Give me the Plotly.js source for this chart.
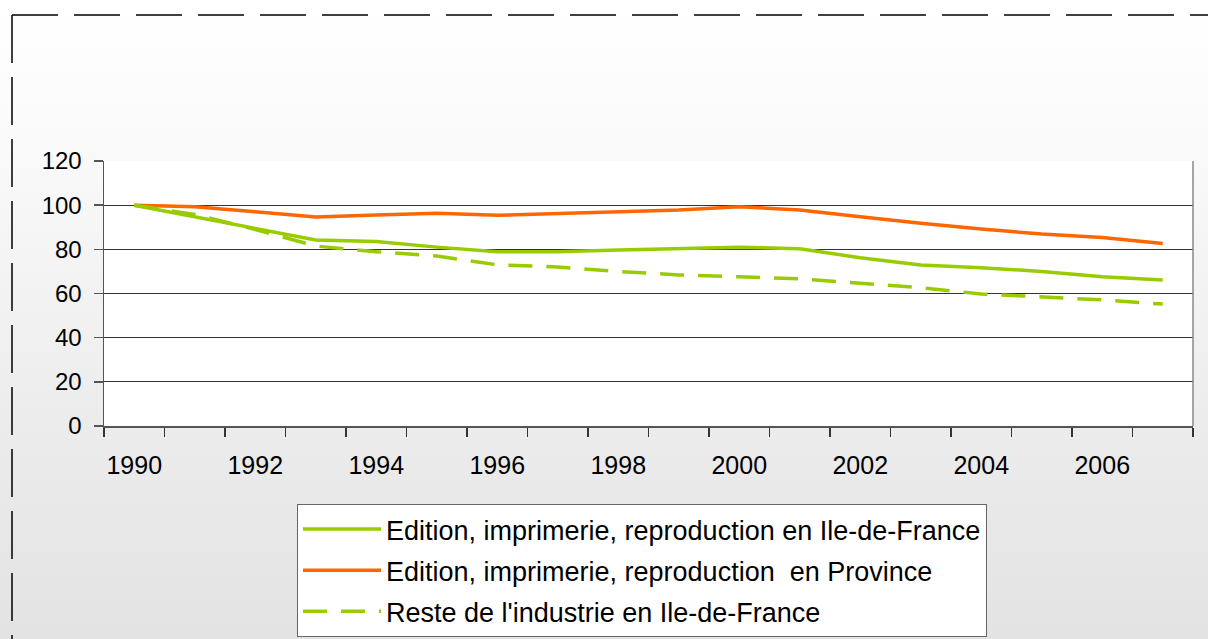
<!DOCTYPE html>
<html>
<head>
<meta charset="utf-8">
<script src="https://cdn.plot.ly/plotly-3.0.1.min.js"></script>
<style>
  html, body { margin: 0; padding: 0; }
  body { width: 1208px; height: 639px; overflow: hidden;
         background: linear-gradient(to bottom, #ffffff 0px, #fbfbfb 120px, #ececec 420px, #e3e3e3 639px); }
  #chart { width: 1208px; height: 639px; }
</style>
</head>
<body>
<div id="chart"></div>
<script>
const years = [1990,1991,1992,1993,1994,1995,1996,1997,1998,1999,2000,2001,2002,2003,2004,2005,2006,2007];
const tickYears = [1990,1992,1994,1996,1998,2000,2002,2004,2006];
const yTicks = [0,20,40,60,80,100,120];

const nameIdf = "Edition, imprimerie, reproduction en Ile-de-France";
const nameProv = "Edition, imprimerie, reproduction  en Province";
const nameReste = "Reste de l'industrie en Ile-de-France";

const editionIdf = [100, 94.8, 89.7, 84.2, 83.5, 81.0, 78.9, 78.9, 79.7, 80.3, 81.0, 80.3, 76.2, 72.9, 71.7, 70.0, 67.6, 66.1];
const editionProvince = [100, 99.3, 97.0, 94.6, 95.5, 96.3, 95.4, 96.3, 97.0, 97.8, 99.3, 97.8, 94.8, 91.8, 89.2, 86.9, 85.4, 82.6];
const resteIdf = [100, 95.8, 89.0, 81.5, 78.9, 77.0, 73.0, 72.0, 70.0, 68.4, 67.6, 66.6, 64.6, 62.6, 59.8, 58.3, 57.1, 55.2];

const green = "#99CC00";
const orange = "#FF6600";

const traces = [
  { x: years, y: editionIdf, name: nameIdf, type: "scatter", mode: "lines",
    line: { color: green, width: 3.5 }, legendgroup: "a" },
  { x: years, y: editionProvince, name: nameProv, type: "scatter", mode: "lines",
    line: { color: orange, width: 3.5 }, legendgroup: "b" },
  { x: years, y: resteIdf, name: nameReste, type: "scatter", mode: "lines",
    line: { color: green, width: 3.5, dash: "24px,14px" }, legendgroup: "c" }
];

// pixel helpers for decorative frame (paper coords)
const L = 104, R = 1193, T = 161, B = 426;
const px = v => (v - L) / (R - L);
const py = v => (B - v) / (B - T);

const layout = {
  width: 1208, height: 639,
  margin: { l: L, r: 1208 - R, t: T, b: 639 - B, autoexpand: false },
  paper_bgcolor: "rgba(0,0,0,0)",
  plot_bgcolor: "#ffffff",
  font: { family: "Liberation Sans, Arial, sans-serif", size: 24, color: "#000000" },
  showlegend: true,
  xaxis: {
    type: "linear",
    range: [1989.5, 2007.5],
    tickmode: "array",
    tickvals: tickYears,
    ticktext: tickYears.map(String),
    ticks: "",
    ticklabelstandoff: 16,
    showgrid: false,
    zeroline: false,
    showline: true, linecolor: "#555555", linewidth: 1.5, mirror: false,
    minor: { tickmode: "linear", tick0: 1989.5, dtick: 1, ticks: "outside", ticklen: 9, tickcolor: "#333333", tickwidth: 1.5, showgrid: false },
    tickfont: { size: 25, color: "#000000" }
  },
  yaxis: {
    range: [0, 120],
    tickmode: "array",
    tickvals: yTicks,
    ticks: "outside", ticklen: 9, tickcolor: "#555555", tickwidth: 1.5,
    ticklabelstandoff: 7,
    showgrid: true, gridcolor: "#333333", gridwidth: 1,
    zeroline: false,
    showline: true, linecolor: "#555555", linewidth: 1.5,
    tickfont: { size: 24, color: "#000000" }
  },
  legend: {
    x: px(297), y: py(504), xanchor: "left", yanchor: "top",
    bgcolor: "#ffffff", bordercolor: "#666666", borderwidth: 1,
    font: { size: 27, color: "#000000" },
    tracegroupgap: 3,
    itemwidth: 78
  },
  shapes: [
    { type: "line", xref: "paper", yref: "paper", x0: px(1193), x1: px(1193), y0: 0, y1: 1,
      line: { color: "#888888", width: 1.5 } },
    { type: "line", xref: "paper", yref: "paper", x0: px(12), y0: py(15), x1: px(1240), y1: py(15),
      line: { color: "#000000", width: 1.5, dash: "46px,16px" } },
    { type: "line", xref: "paper", yref: "paper", x0: px(12), y0: py(15), x1: px(12), y1: py(660),
      line: { color: "#000000", width: 1.5, dash: "48px,14px" } }
  ]
};

Plotly.newPlot("chart", traces, layout, { displayModeBar: false, staticPlot: true });
</script>
</body>
</html>
